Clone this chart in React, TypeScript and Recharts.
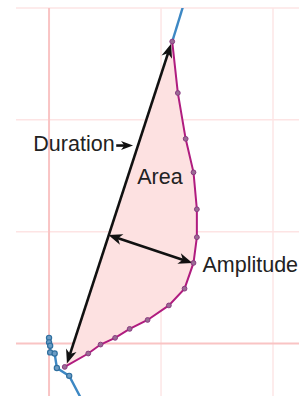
import {
  ComposedChart,
  Line,
  Scatter,
  XAxis,
  YAxis,
  CartesianGrid,
  ReferenceLine,
  ReferenceDot,
} from 'recharts';

interface Pt {
  x: number;
  y: number;
}

// trace coming in from the top
const upperTrace: Pt[] = [
  { x: 1.22, y: 3.09 },
  { x: 1.1, y: 2.7 },
];

// trace leaving at the bottom left
const lowerTrace: Pt[] = [
  { x: 0.0, y: 0.05 },
  { x: 0.0, y: 0.01 },
  { x: 0.01, y: -0.02 },
  { x: 0.01, y: -0.08 },
  { x: 0.05, y: -0.09 },
  { x: 0.07, y: -0.22 },
  { x: 0.18, y: -0.29 },
  { x: 0.29, y: -0.5 },
];

// highlighted loop
const loop: Pt[] = [
  { x: 1.1, y: 2.7 },
  { x: 1.15, y: 2.24 },
  { x: 1.22, y: 1.83 },
  { x: 1.29, y: 1.53 },
  { x: 1.32, y: 1.2 },
  { x: 1.32, y: 0.95 },
  { x: 1.29, y: 0.72 },
  { x: 1.21, y: 0.49 },
  { x: 1.07, y: 0.34 },
  { x: 0.88, y: 0.21 },
  { x: 0.72, y: 0.13 },
  { x: 0.59, y: 0.05 },
  { x: 0.46, y: -0.01 },
  { x: 0.35, y: -0.09 },
  { x: 0.14, y: -0.21 },
];

const durationArrow: Pt[] = [
  { x: 1.09, y: 2.68 },
  { x: 0.16, y: -0.18 },
];
const amplitudeArrow: Pt[] = [
  { x: 0.53, y: 0.97 },
  { x: 1.28, y: 0.72 },
];
const pointerArrow: Pt[] = [
  { x: 0.6, y: 1.77 },
  { x: 0.75, y: 1.77 },
];

const labels = [
  { text: 'Duration', x: -0.14, y: 1.72, anchor: 'start' },
  { text: 'Area', x: 0.99, y: 1.43, anchor: 'middle' },
  { text: 'Amplitude', x: 1.37, y: 0.635, anchor: 'start' },
];

const minorX = [1, 2];
const minorY = [1, 2, 3];

const FONT = '"Liberation Sans", Arial, Helvetica, sans-serif';

const arrowShape =
  (both: boolean, headLen = 14, headHalf = 5.5) =>
  (props: any) => {
    const { x1, y1, x2, y2 } = props;
    const dx = x2 - x1;
    const dy = y2 - y1;
    const len = Math.hypot(dx, dy) || 1;
    const ux = dx / len;
    const uy = dy / len;
    const head = (tx: number, ty: number, dirx: number, diry: number) => {
      const bx = tx - dirx * headLen;
      const by = ty - diry * headLen;
      const nx = tx - dirx * headLen * 0.72;
      const ny = ty - diry * headLen * 0.72;
      const px = -diry * headHalf;
      const py = dirx * headHalf;
      return `${tx},${ty} ${bx + px},${by + py} ${nx},${ny} ${bx - px},${by - py}`;
    };
    const sx = both ? x1 + ux * 8 : x1;
    const sy = both ? y1 + uy * 8 : y1;
    return (
      <g>
        <line
          x1={sx}
          y1={sy}
          x2={x2 - ux * 8}
          y2={y2 - uy * 8}
          stroke="#111"
          strokeWidth={2.6}
        />
        <polygon points={head(x2, y2, ux, uy)} fill="#111" />
        {both && <polygon points={head(x1, y1, -ux, -uy)} fill="#111" />}
      </g>
    );
  };

const fillShape = (props: any) => {
  const pts: { x: number; y: number }[] = props.points || [];
  if (!pts.length) return <g />;
  const d = pts.map((p, i) => `${i ? 'L' : 'M'}${p.x},${p.y}`).join(' ') + ' Z';
  return <path d={d} fill="#fde1e1" stroke="none" />;
};

const App = () => {
  return (
    <div style={{ position: 'absolute', left: 0, top: 0, background: '#fff' }}>
      <ComposedChart width={299} height={396} margin={{ top: 8, right: 0, bottom: 0, left: 16 }}>
        <CartesianGrid
          stroke="#fde6e6"
          strokeWidth={1.5}
          horizontal={false}
          verticalValues={minorX}
        />
        <XAxis
          type="number"
          dataKey="x"
          domain={[-0.295, 2.232]}
          allowDataOverflow
          hide
        />
        <YAxis
          type="number"
          dataKey="y"
          domain={[-0.47, 3]}
          allowDataOverflow
          width={0}
          tick={false}
          tickLine={false}
          axisLine={{ stroke: '#d4d4d4', strokeWidth: 2 }}
        />
        {minorY.map((v) => (
          <ReferenceLine key={`h${v}`} y={v} stroke="#fde4e4" strokeWidth={1.5} zIndex={-50} />
        ))}
        <ReferenceLine x={0} stroke="#f9c4c4" strokeWidth={2} zIndex={-50} />
        <ReferenceLine y={0} stroke="#f9c4c4" strokeWidth={2} zIndex={-50} />
        <Scatter
          data={loop}
          line={fillShape}
          shape={() => <g />}
          isAnimationActive={false}
          zIndex={50}
        />
        <Line
          data={upperTrace}
          dataKey="y"
          stroke="#3d88c4"
          strokeWidth={2.4}
          dot={false}
          isAnimationActive={false}
        />
        <Line
          data={lowerTrace}
          dataKey="y"
          stroke="#3d88c4"
          strokeWidth={2.4}
          dot={{ r: 2.6, fill: '#6b9cc4', stroke: '#2f6f9f', strokeWidth: 1.2 }}
          isAnimationActive={false}
        />
        <Line
          data={loop}
          dataKey="y"
          stroke="#b01c7f"
          strokeWidth={2}
          dot={{ r: 2.4, fill: '#9a6a94', stroke: '#8a3a80', strokeWidth: 1 }}
          isAnimationActive={false}
        />
        <ReferenceLine segment={durationArrow} shape={arrowShape(true)} />
        <ReferenceLine segment={amplitudeArrow} shape={arrowShape(true)} />
        <ReferenceLine segment={pointerArrow} shape={arrowShape(false, 12, 4.5)} />
        {labels.map((l) => (
          <ReferenceDot
            key={l.text}
            x={l.x}
            y={l.y}
            r={0}
            shape={(p: any) => (
              <text
                x={p.cx}
                y={p.cy}
                textAnchor={l.anchor as any}
                fontFamily={FONT}
                fontSize={21.5}
                fill="#222"
              >
                {l.text}
              </text>
            )}
          />
        ))}
      </ComposedChart>
    </div>
  );
};

export default App;
